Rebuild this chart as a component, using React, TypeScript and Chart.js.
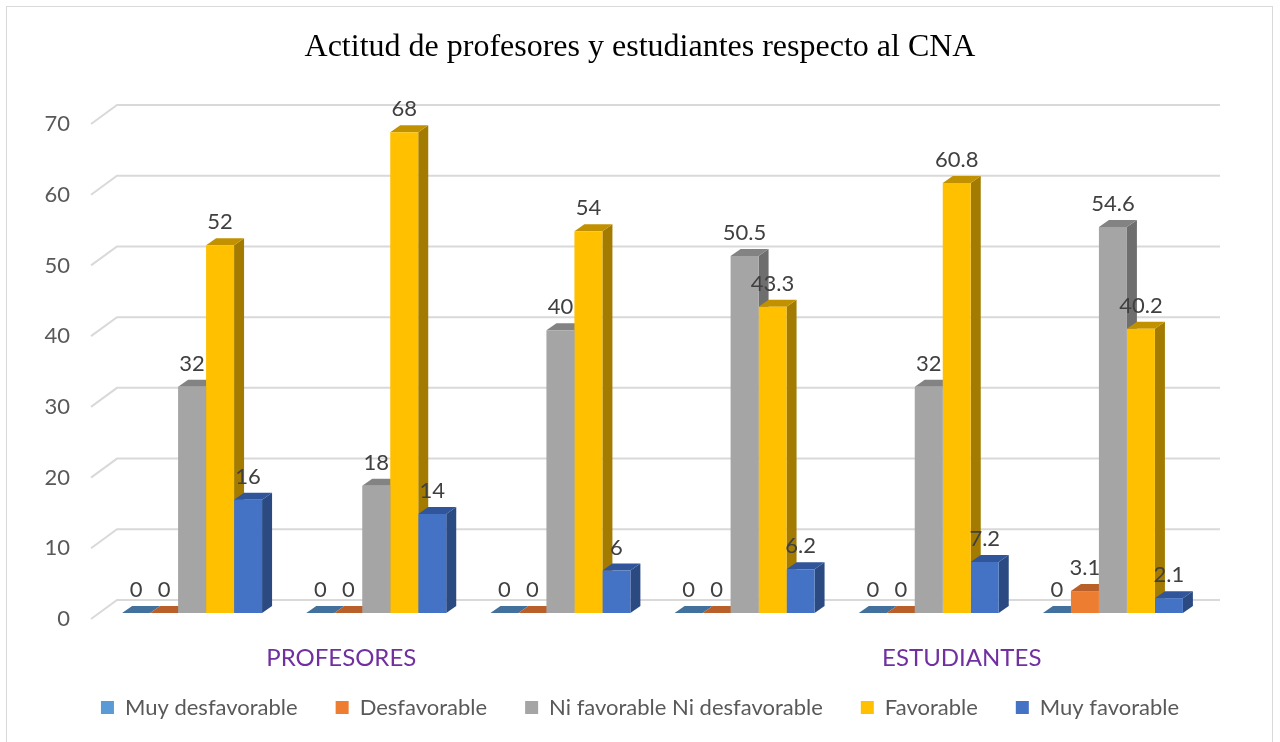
import React, { useEffect, useRef } from 'react';
import { Chart, registerables } from 'chart.js';

Chart.register(...registerables);

// ---- data ----
const categories = ['Profesores 1', 'Profesores 2', 'Profesores 3', 'Estudiantes 1', 'Estudiantes 2', 'Estudiantes 3'];
const groupLabels = ['PROFESORES', 'ESTUDIANTES'];
const seriesNames = ['Muy desfavorable', 'Desfavorable', 'Ni favorable Ni desfavorable', 'Favorable', 'Muy favorable'];
const muyDesfavorable = [0, 0, 0, 0, 0, 0];
const desfavorable = [0, 0, 0, 0, 0, 3.1];
const niFavorable = [32, 18, 40, 50.5, 32, 54.6];
const favorable = [52, 68, 54, 43.3, 60.8, 40.2];
const muyFavorable = [16, 14, 6, 6.2, 7.2, 2.1];
const yTicks = [0, 10, 20, 30, 40, 50, 60, 70];
const titleText = 'Actitud de profesores y estudiantes respecto al CNA';

// ---- styles ----
const frontColors = ['#5B9BD5', '#ED7D31', '#A5A5A5', '#FFC000', '#4472C4'];
const topColors = ['#41719C', '#B9602A', '#838383', '#C29100', '#30559A'];
const sideColors = ['#36638C', '#A1521E', '#6E6E6E', '#A37B00', '#2B4A82'];
const FONT = 'Lato, "Noto Sans", sans-serif';

const DX = 10; // bar depth (x)
const DY = 7; // bar depth (y)
const WALL_DX = 17; // back wall offset
const WALL_DY = 13;

const threeD = {
  id: 'threeD',
  beforeDraw(chart: any) {
    const ctx = chart.ctx;
    ctx.save();
    ctx.strokeStyle = '#D9D9D9';
    ctx.lineWidth = 1;
    ctx.strokeRect(6.5, 6.5, 1266, 760);
    ctx.restore();
  },
  beforeDatasetsDraw(chart: any) {
    const ctx = chart.ctx;
    const y = chart.scales.y;
    const area = chart.chartArea;
    ctx.save();
    // back wall gridlines + floor diagonals
    ctx.strokeStyle = '#D9D9D9';
    ctx.lineWidth = 2;
    yTicks.forEach((v) => {
      const yf = y.getPixelForValue(v);
      const yb = yf - WALL_DY;
      ctx.beginPath();
      ctx.moveTo(area.left - 9, yf + 6);
      ctx.lineTo(area.left + WALL_DX, yb);
      ctx.lineTo(area.right + 15, yb);
      ctx.stroke();
    });
    // side and top faces, left to right
    chart.data.datasets.forEach((ds: any, di: number) => {
      const meta = chart.getDatasetMeta(di);
      meta.data.forEach((bar: any) => {
        const { x, y: top, base, width } = bar.getProps(['x', 'y', 'base', 'width'], true);
        const l = x - width / 2;
        const r = x + width / 2;
        // side
        ctx.fillStyle = sideColors[di];
        ctx.beginPath();
        ctx.moveTo(r, base);
        ctx.lineTo(r, top);
        ctx.lineTo(r + DX, top - DY);
        ctx.lineTo(r + DX, base - DY);
        ctx.closePath();
        ctx.fill();
        // top
        ctx.fillStyle = topColors[di];
        ctx.beginPath();
        ctx.moveTo(l, top);
        ctx.lineTo(r, top);
        ctx.lineTo(r + DX, top - DY);
        ctx.lineTo(l + DX, top - DY);
        ctx.closePath();
        ctx.fill();
      });
    });
    ctx.restore();
  },
  afterDatasetsDraw(chart: any) {
    const ctx = chart.ctx;
    ctx.save();
    ctx.font = `22px ${FONT}`;
    ctx.fillStyle = '#404040';
    ctx.textAlign = 'center';
    ctx.textBaseline = 'middle';
    chart.data.datasets.forEach((ds: any, di: number) => {
      const meta = chart.getDatasetMeta(di);
      meta.data.forEach((bar: any, i: number) => {
        const { x, y: top } = bar.getProps(['x', 'y'], true);
        ctx.fillText(String(ds.data[i]), x, top - 23);
      });
    });
    // group labels
    const xs = chart.scales.x;
    const area = chart.chartArea;
    ctx.font = `24px ${FONT}`;
    ctx.fillStyle = '#7030A0';
    const g1 = (xs.getPixelForValue(0) + xs.getPixelForValue(2)) / 2 - 35;
    const g2 = (xs.getPixelForValue(3) + xs.getPixelForValue(5)) / 2 + 33;
    ctx.fillText(groupLabels[0], g1, area.bottom + 45);
    ctx.fillText(groupLabels[1], g2, area.bottom + 45);
    ctx.restore();
  },
};

export default function App() {
  const ref = useRef<HTMLCanvasElement>(null);
  useEffect(() => {
    if (!ref.current) return;
    const series = [muyDesfavorable, desfavorable, niFavorable, favorable, muyFavorable];
    const chart = new Chart(ref.current, {
      type: 'bar',
      data: {
        labels: categories,
        datasets: series.map((d, i) => ({
          label: seriesNames[i],
          data: d,
          backgroundColor: frontColors[i],
          borderWidth: 0,
          categoryPercentage: 0.76,
          barPercentage: 1.0,
        })),
      },
      options: {
        responsive: false,
        animation: false,
        layout: { padding: { left: 0, right: 0, top: 0, bottom: 13.5 } },
        plugins: {
          title: {
            display: true,
            text: titleText,
            color: '#000000',
            font: { family: '"Liberation Serif", "Times New Roman", serif', size: 32, weight: 'normal' },
            padding: { top: 28, bottom: 51.6 },
          },
          legend: {
            display: true,
            position: 'bottom',
            labels: {
              boxWidth: 13,
              boxHeight: 13,
              padding: 38,
              color: '#595959',
              font: { family: FONT, size: 22 },
            },
          },
          tooltip: { enabled: false },
        },
        scales: {
          x: {
            display: true,
            grid: { display: false, drawTicks: false },
            border: { display: false },
            ticks: { display: false },
            afterFit: (s: any) => { s.height = 45.5; },
          },
          y: {
            min: 0,
            max: 70,
            grid: { display: false, drawTicks: false },
            border: { display: false },
            ticks: {
              stepSize: 10,
              padding: 30,
              labelOffset: 6,
              color: '#595959',
              font: { family: FONT, size: 22 },
            },
            afterFit: (s: any) => { s.width = 100; },
          },
          yRight: {
            position: 'right',
            display: true,
            grid: { display: false, drawTicks: false },
            border: { display: false },
            ticks: { display: false },
            afterFit: (s: any) => { s.width = 75; },
          },
        },
      },
      plugins: [threeD],
    } as any);
    return () => chart.destroy();
  }, []);
  return (
    <div style={{ position: 'absolute', left: 0, top: 0, width: 1280, height: 742, background: '#ffffff' }}>
      <canvas ref={ref} width={1280} height={742} style={{ display: 'block' }} />
    </div>
  );
}
